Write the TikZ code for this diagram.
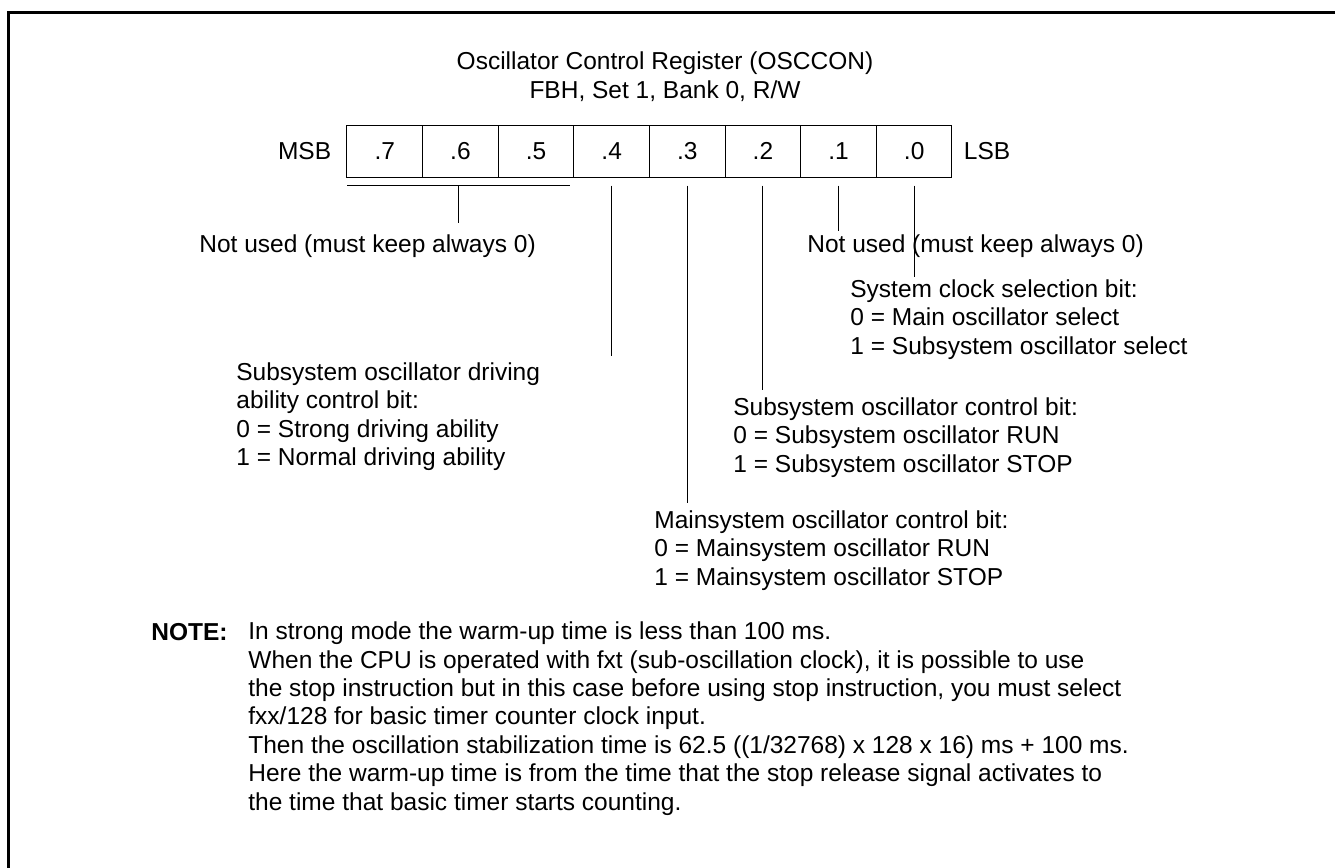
\documentclass[tikz,border=0pt]{standalone}
\usepackage{fontspec}
\setmainfont{Liberation Sans}
\usetikzlibrary{positioning,calc}
\tikzset{bitcell/.style={draw,line width=0.5pt,minimum width=37.81pt,minimum height=26pt,inner sep=0pt,
 font=\fontsize{12.25}{14.25}\selectfont},
 desc/.style={anchor=base west,align=left,inner sep=0pt,font=\fontsize{12.25}{14.25}\selectfont},
 lead/.style={line width=0.5pt}}

\begin{document}
\begin{tikzpicture}[x=0.5pt,y=-0.5pt]
\useasboundingbox (0,0) rectangle (1335,868);
\draw[line width=1.5pt] (8.5,868) -- (8.5,12.5) -- (1335,12.5);
\node[desc,anchor=base,align=center] (title) at (665,98) {Oscillator Control Register (OSCCON)\\FBH, Set 1, Bank 0, R/W};
% register bits
\foreach \b [count=\i from 0] in {7,...,0}
  \node[bitcell] (b\b) at (384.8+75.625*\i,151) {.\b};
\node[desc,anchor=east,left=7.5pt of b7] (msb) {MSB};
\node[desc,anchor=west,right=5.5pt of b0] (lsb) {LSB};
% leads
\coordinate (brl) at (347,185);
\coordinate (brr) at (570,185);
\draw[lead] (brl) -- (brr);
\draw[lead] ($(brl)!0.5!(brr)$) -- ++(0,38);
\draw[lead] ([yshift=-4pt]b4.south) -- ([yshift=-4pt]b4.south |- 0,348);
\draw[lead] ([yshift=-4pt]b3.south) -- ([yshift=-4pt]b3.south |- 0,495);
\draw[lead] ([yshift=-4pt]b2.south) -- ([yshift=-4pt]b2.south |- 0,382);
\draw[lead] ([yshift=-4pt]b1.south) -- ([yshift=-4pt]b1.south |- 0,223);
\draw[lead] ([yshift=-4pt]b0.south) -- ([yshift=-4pt]b0.south |- 0,269);
% descriptions (placed at the baseline of their last line)
\node[desc] (nu7) at (199,252) {Not used (must keep always 0)};
\node[desc] (nu1) at (807,252) {Not used (must keep always 0)};
\node[desc] (d0) at (850,354) {System clock selection bit:\\0 = Main oscillator select\\1 = Subsystem oscillator select};
\node[desc] (d4) at (236,465.5) {Subsystem oscillator driving\\ability control bit:\\0 = Strong driving ability\\1 = Normal driving ability};
\node[desc] (d2) at (733,472) {Subsystem oscillator control bit:\\0 = Subsystem oscillator RUN\\1 = Subsystem oscillator STOP};
\node[desc] (d3) at (654,585) {Mainsystem oscillator control bit:\\0 = Mainsystem oscillator RUN\\1 = Mainsystem oscillator STOP};
% note
\node[desc,font=\fontsize{12.25}{14.25}\selectfont\bfseries] (notehd) at (151,640) {NOTE:};
\node[desc,font=\fontsize{12.25}{14.17}\selectfont] (note) at (248,810) {In strong mode the warm-up time is less than 100 ms.\\
When the CPU is operated with fxt (sub-oscillation clock), it is possible to use\\
the stop instruction but in this case before using stop instruction, you must select\\
fxx/128 for basic timer counter clock input.\\
Then the oscillation stabilization time is 62.5 ((1/32768) x 128 x 16) ms + 100 ms.\\
Here the warm-up time is from the time that the stop release signal activates to\\
the time that basic timer starts counting.};
\end{tikzpicture}
\end{document}
